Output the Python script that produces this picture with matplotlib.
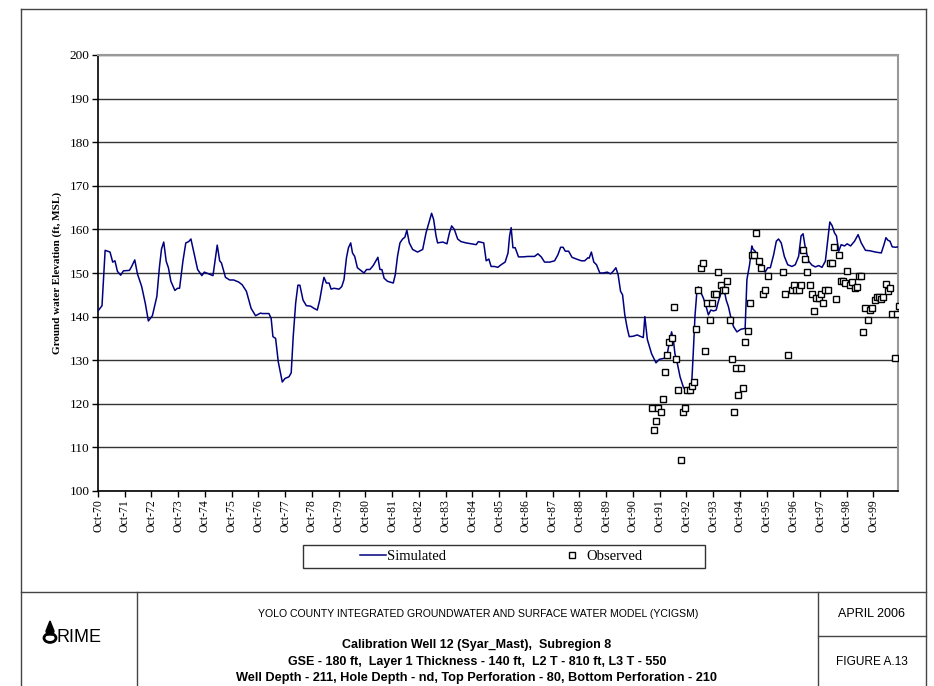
import matplotlib
matplotlib.use("Agg")
import matplotlib.pyplot as plt
from matplotlib.lines import Line2D
from matplotlib.patches import Rectangle, Polygon, Circle

# simulated groundwater level: months after Oct-1970, elevation (ft, MSL)
sim_month = [0, 1.8, 3.2, 5.4, 6.6, 7.6, 8.7, 10.2, 11.4, 14.1, 15.1, 16.5, 17.7,
             19.6, 21.2, 22.6, 24.4, 26.4, 27.6, 28.5, 29.5, 30.6, 31.6, 32.7,
             34.5, 35.7, 36.6, 38.1, 39.4, 40.7, 41.7, 42.9, 44.7, 46.6, 47.7,
             49.7, 51.6, 52.6, 53.5, 54.6, 55.4, 57.2, 59.1, 60.9, 63.2, 64.7,
             66.6, 68.7, 70.7, 72.9, 73.7, 76.7, 77.7, 78.5, 79.7, 80.9, 82.7,
             83.9, 85.7, 86.7, 87.6, 88.7, 89.7, 90.6, 92.0, 93.5, 95.4, 96.9,
             98.4, 99.5, 100.7, 101.4, 102.5, 103.7, 104.6, 105.9, 108.2, 109.4,
             110.4, 111.5, 112.4, 113.4, 114.2, 115.2, 116.4, 118.4, 119.4,
             120.5, 122.0, 123.5, 124.6, 125.6, 126.5, 127.4, 128.4, 129.9,
             132.5, 133.4, 134.4, 135.5, 136.7, 137.7, 138.6, 139.7, 141.2,
             143.4, 144.9, 145.7, 147.2, 148.7, 149.7, 150.6, 151.7, 152.4,
             154.7, 156.6, 157.7, 158.7, 159.9, 161.4, 162.9, 165.2, 167.4,
             169.7, 170.7, 173.1, 174.2, 175.4, 176.4, 177.9, 179.4, 180.9,
             182.7, 184.0, 184.7, 185.4, 186.2, 187.2, 188.7, 190.7, 192.9,
             195.9, 197.4, 198.9, 200.4, 202.7, 204.9, 206.4, 207.6, 208.7,
             209.7, 211.2, 212.7, 214.7, 216.9, 218.4, 219.9, 220.4, 221.4,
             222.5, 223.7, 225.2, 226.7, 228.5, 230.0, 231.2, 232.4, 233.4,
             234.5, 235.4, 236.4, 237.5, 238.4, 240.2, 242.0, 243.2, 244.7,
             245.4, 246.5, 248.4, 250.4, 251.9, 253.7, 255.2, 256.4, 257.4,
             258.2, 258.9, 260.0, 261.2, 262.7, 263.9, 265.7, 266.4, 267.2,
             267.9, 268.7, 269.4, 270.5, 271.7, 272.9, 273.9, 275.0, 276.2,
             277.4, 278.4, 279.6, 280.6, 281.9, 282.9, 283.9, 285.2, 286.7,
             288.5, 290.4, 291.2, 292.4, 293.4, 293.9, 294.9, 296.4, 297.9,
             299.4, 300.5, 301.7, 303.2, 304.4, 305.4, 306.6, 308.0, 309.5,
             311.4, 312.9, 314.4, 315.5, 316.4, 317.4, 318.9, 320.4, 321.9,
             323.4, 324.9, 326.4, 327.5, 328.4, 329.4, 330.5, 331.4, 332.4,
             333.5, 335.0, 336.2, 337.7, 339.5, 341.1, 342.5, 344.4, 346.4,
             348.9, 351.5, 352.7, 353.6, 354.5, 355.4, 356.4, 357.9, 359.0]
sim_level = [141.3, 142.5, 155.2, 154.8, 152.5, 152.8, 150.4, 149.5, 150.5, 150.6,
             151.5, 153.0, 149.8, 146.9, 143.1, 139.0, 140.2, 144.6, 151.5, 155.5,
             157.1, 152.7, 151.2, 148.1, 146.0, 146.5, 146.5, 152.7, 156.9, 157.2,
             157.8, 155.0, 150.8, 149.4, 150.2, 149.8, 149.4, 153.1, 156.4, 152.8,
             152.3, 149.0, 148.4, 148.4, 147.9, 147.3, 145.8, 141.9, 140.2, 140.8,
             140.7, 140.7, 139.6, 135.4, 135.0, 129.6, 125.0, 125.8, 126.2, 127.1,
             135.4, 143.1, 147.2, 147.2, 143.8, 142.5, 142.4, 141.9, 141.5, 143.8,
             147.3, 149.0, 147.7, 147.7, 146.3, 146.5, 146.3, 146.9, 148.5, 153.5,
             155.8, 156.9, 154.6, 153.8, 151.2, 150.4, 150.0, 150.8, 150.8, 151.7,
             152.7, 153.6, 150.8, 150.8, 148.8, 148.1, 147.7, 149.6, 153.8, 156.9,
             157.8, 158.2, 159.8, 156.9, 155.4, 154.8, 155.2, 155.4, 159.2, 161.9,
             163.7, 162.3, 158.5, 156.9, 157.1, 156.7, 159.2, 160.8, 160.0, 157.8,
             157.2, 156.9, 156.7, 156.5, 157.2, 156.9, 152.8, 153.2, 151.5, 151.5,
             151.3, 151.9, 152.5, 154.6, 158.5, 160.4, 155.8, 155.8, 153.7, 153.7,
             153.8, 153.8, 154.4, 153.7, 152.5, 152.5, 152.8, 154.2, 155.9, 155.9,
             155.0, 155.0, 153.6, 153.2, 152.8, 152.8, 153.5, 153.4, 154.8, 152.5,
             151.9, 150.0, 150.0, 150.2, 149.8, 150.4, 151.2, 149.6, 145.8, 145.0,
             140.4, 137.3, 135.4, 135.5, 135.8, 135.5, 135.2, 140.0, 134.8, 131.5,
             129.4, 130.2, 130.4, 130.6, 134.2, 136.5, 134.6, 131.5, 129.2, 126.2,
             123.8, 123.0, 123.2, 124.4, 132.5, 140.2, 145.4, 146.8, 145.6, 144.2,
             142.3, 140.4, 141.5, 141.3, 141.5, 143.5, 145.4, 147.1, 143.8, 142.3,
             140.0, 137.7, 136.5, 137.1, 137.3, 148.5, 151.9, 156.2, 155.5, 155.0,
             152.7, 151.9, 150.2, 151.2, 151.2, 154.2, 157.3, 157.8, 156.9, 153.8,
             151.9, 151.5, 151.9, 153.8, 158.5, 159.0, 155.8, 152.7, 151.8, 151.4,
             151.7, 151.3, 152.7, 157.7, 161.7, 160.9, 159.2, 158.5, 155.0, 156.5,
             156.2, 156.7, 156.2, 157.3, 158.8, 156.9, 155.2, 155.1, 154.8, 154.6,
             156.5, 158.1, 157.5, 157.3, 156.0, 155.9, 156.0]

# observed groundwater level
obs_month = [248.6, 249.5, 250.4, 251.4, 252.5, 253.5, 254.4, 255.5, 256.4, 257.6,
             258.5, 259.4, 260.4, 261.5, 262.5, 263.4, 264.5, 265.5, 266.6, 267.5,
             268.5, 269.4, 270.5, 271.5, 272.4, 273.5, 274.5, 275.4, 276.3, 277.4,
             278.4, 279.5, 280.4, 281.4, 282.3, 283.4, 284.4, 285.5, 286.4, 287.4,
             288.5, 289.5, 290.4, 291.5, 292.4, 293.4, 294.5, 295.1, 296.4, 297.5,
             298.5, 299.4, 300.5, 307.4, 308.4, 309.5, 311.4, 312.5, 313.4, 314.4,
             315.5, 316.5, 317.4, 318.3, 319.4, 320.4, 321.5, 322.4, 323.4, 324.5,
             325.5, 326.4, 327.5, 328.5, 329.5, 330.5, 331.4, 332.4, 333.5, 334.4,
             335.4, 336.3, 337.4, 338.4, 339.5, 340.5, 341.4, 342.5, 343.4, 344.4,
             345.5, 346.4, 347.4, 348.5, 349.4, 350.4, 351.5, 352.4, 353.4, 354.5,
             355.4, 356.4, 357.5, 358.4, 359.4]
obs_level = [119.1, 114.1, 116.1, 119.1, 118.1, 121.1, 127.2, 131.2, 134.1, 135.2,
             142.2, 130.2, 123.1, 107.1, 118.1, 119.1, 123.1, 123.1, 124.1, 125.1,
             137.2, 146.2, 151.2, 152.2, 132.1, 143.2, 139.2, 143.2, 145.2, 145.2,
             150.2, 147.2, 146.2, 146.2, 148.2, 139.2, 130.2, 118.1, 128.2, 122.1,
             128.2, 123.7, 134.1, 136.6, 143.2, 154.2, 154.2, 159.2, 152.7, 151.2,
             145.2, 146.2, 149.2, 150.2, 145.2, 131.1, 146.2, 147.2, 146.0, 146.2,
             147.2, 155.2, 153.2, 150.2, 147.2, 145.2, 141.2, 144.2, 144.2, 145.2,
             143.2, 146.2, 146.2, 152.2, 152.2, 156.0, 144.0, 154.2, 148.2, 148.1,
             147.8, 150.4, 147.3, 148.0, 146.5, 146.8, 149.4, 149.4, 136.5, 141.9,
             139.2, 141.5, 141.9, 143.8, 144.5, 144.6, 144.0, 144.6, 147.5, 145.8,
             146.5, 140.7, 130.4, 140.7, 142.4]

year_ticks = list(range(0, 360, 12))
year_labels = ["Oct-%02d" % ((70 + i) % 100) for i in range(30)]

W, H = 934, 686
fig = plt.figure(figsize=(W / 100, H / 100), dpi=100)
serif = ["Liberation Serif", "DejaVu Serif"]
sans = ["Liberation Sans", "DejaVu Sans"]


def fx(px):
    return px / W


def fy(py):
    return 1 - py / H


ax = fig.add_axes([fx(98), fy(491), fx(898) - fx(98), fy(55) - fy(491)])
ax.plot(sim_month, sim_level, color="#000080", lw=1.1, label="Simulated", zorder=3)
ax.plot(obs_month, obs_level, ls="none", marker="s", ms=4.2, mfc="white",
        mec="black", mew=1.0, label="Observed", zorder=4)

ax.set_xlim(0, 359)
ax.set_ylim(100, 200)
ax.set_yticks(range(100, 201, 10))
ax.set_xticks(year_ticks)
ax.set_xticklabels(year_labels, rotation=90, family=serif, fontsize=8.5)
for t in ax.get_yticklabels():
    t.set_family(serif)
    t.set_fontsize(9.5)
ax.tick_params(direction="out", length=4, width=1, color="black", pad=2)
ax.yaxis.grid(True, color="#333333", lw=1)
ax.set_axisbelow(True)
for s in ["top", "right"]:
    ax.spines[s].set_color("#999999")
    ax.spines[s].set_linewidth(1.5)
for s in ["left", "bottom"]:
    ax.spines[s].set_color("black")
    ax.spines[s].set_linewidth(1.2)
ax.set_ylabel("Ground water Elevation (ft, MSL)", family=serif, fontsize=8,
              fontweight="bold")
ax.yaxis.set_label_coords((62 - 98) / 800, 0.5)

# legend with a plain box
leg = fig.legend(loc="center", bbox_to_anchor=(fx(501), fy(556)), ncol=2,
                 frameon=False, prop={"family": serif, "size": 10.5},
                 handlelength=1.8, handletextpad=0.05, columnspacing=7.8)
fig.add_artist(Rectangle((fx(303), fy(568)), fx(705) - fx(303), fy(545) - fy(568),
                         transform=fig.transFigure, fill=False, ec="#333333", lw=1))


def hline(x0, x1, y):
    fig.add_artist(Line2D([fx(x0), fx(x1)], [fy(y), fy(y)], color="#444444", lw=1))


def vline(x, y0, y1):
    fig.add_artist(Line2D([fx(x), fx(x)], [fy(y0), fy(y1)], color="#444444", lw=1))


# page frame and title block
hline(21, 926, 9)
vline(21, 9, 686)
vline(926, 9, 686)
hline(21, 926, 592)
vline(137, 592, 686)
vline(818, 592, 686)
hline(818, 926, 636)

fig.text(fx(478), fy(614), "YOLO COUNTY INTEGRATED GROUNDWATER AND SURFACE WATER MODEL (YCIGSM)",
         ha="center", va="center", family=sans, fontsize=7.6)
fig.text(fx(477), fy(645), "Calibration Well 12 (Syar_Mast),  Subregion 8",
         ha="center", va="center", family=sans, fontsize=9, fontweight="bold")
fig.text(fx(477), fy(662), "GSE - 180 ft,  Layer 1 Thickness - 140 ft,  L2 T - 810 ft, L3 T - 550",
         ha="center", va="center", family=sans, fontsize=9, fontweight="bold")
fig.text(fx(477), fy(678), "Well Depth - 211, Hole Depth - nd, Top Perforation - 80, Bottom Perforation - 210",
         ha="center", va="center", family=sans, fontsize=9.2, fontweight="bold")
fig.text(fx(872), fy(614), "APRIL 2006", ha="center", va="center", family=sans, fontsize=9)
fig.text(fx(872), fy(662), "FIGURE A.13", ha="center", va="center", family=sans, fontsize=8.6)

# logo: drop over a ring, then RIME
fig.add_artist(Polygon([(fx(50), fy(621)), (fx(46), fy(631)), (fx(47), fy(635)),
                        (fx(53), fy(635)), (fx(54), fy(631))], closed=True,
                       transform=fig.transFigure, fc="black", ec="black"))
fig.add_artist(Circle((fx(50), fy(638)), 6 / W, transform=fig.transFigure,
                      fill=False, ec="black", lw=2.0))
fig.text(fx(57), fy(638), "RIME", ha="left", va="center", family=sans, fontsize=13)

plt.savefig("out.png", dpi=100)
